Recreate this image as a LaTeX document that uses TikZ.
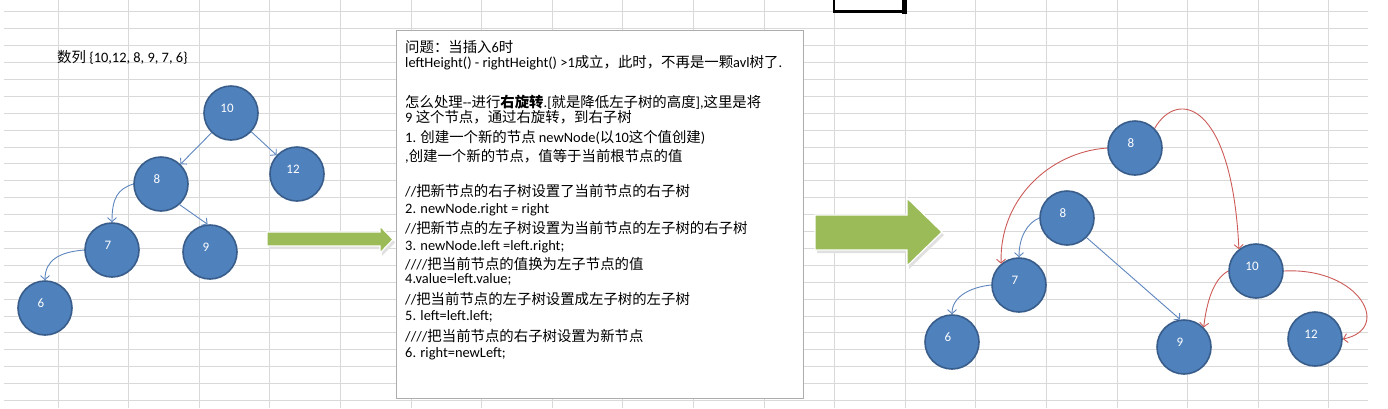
\documentclass[tikz,border=0pt]{standalone}
\usepackage{fontspec}
\setmainfont{Carlito}
\newfontfamily\zhfont{Noto Sans CJK SC}
\newcommand{\zh}[1]{{\zhfont #1}}
\usepackage{tikz}
\usetikzlibrary{arrows.meta}
\definecolor{AVLNode}{HTML}{4F81BD}
\definecolor{AVLRim}{HTML}{385D8A}
\definecolor{AVLEdge}{HTML}{5E86BF}
\definecolor{AVLRed}{HTML}{CC5B58}
\definecolor{AVLGreen}{HTML}{9BBB59}
\definecolor{AVLGrid}{HTML}{D9D9D9}
\definecolor{AVLBox}{HTML}{ADADAD}
\tikzset{
  avlnode/.style={circle,fill=AVLNode,draw=AVLRim,line width=1.6pt,minimum size=54pt,inner sep=0pt,
    label={[text=white,font=\fontsize{13}{13}\selectfont,xshift=-4pt,yshift=5pt]center:#1}},
  bluelink/.style={draw=AVLEdge,line width=0.9pt,-{Straight Barb[length=4pt,width=9pt]}},
  redlink/.style={draw=AVLRed,line width=0.9pt,-{Straight Barb[length=4pt,width=9pt]}},
  noteline/.style={anchor=base west,inner sep=0pt,font=\fontsize{14.4}{17}\selectfont},
  fatarrow/.style={fill=AVLGreen,draw=white,line width=1.2pt}
}
\begin{document}
\begin{tikzpicture}[x=1pt,y=-1pt]
\path[use as bounding box] (0,0) rectangle (1388,408);
\fill[white] (0,0) rectangle (1388,408);
% sheet grid
\foreach \gy in {0,...,23}
  \draw[AVLGrid,line width=0.8pt] (4,11.7+16.9*\gy) -- (1368,11.7+16.9*\gy);
\foreach \gx in {0,...,18}
  \draw[AVLGrid,line width=0.8pt] (58+70.6*\gx,0) -- (58+70.6*\gx,408);
% selected cell
\draw[black,line width=2.4pt] (834,0) -- (834,11.5) -- (903,11.5);
\fill[black] (901.5,0) rectangle (906.5,14);

% before
\node[anchor=base west,inner sep=0pt,font=\fontsize{14.4}{17}\selectfont] (seq) at (57,62) {\zh{数列} \{10,12, 8, 9, 7, 6\}};
\node[avlnode=10] (a10) at (231,113) {};
\node[avlnode=12] (a12) at (297,174) {};
\node[avlnode=8] (a8) at (161,184) {};
\node[avlnode=7] (a7) at (112,250) {};
\node[avlnode=9] (a9) at (210,252) {};
\node[avlnode=6] (a6) at (45,308) {};
\draw[bluelink] (a10) -- (a8);
\draw[bluelink] (a10) -- (a12);
\draw[bluelink] (a8.-48) -- (a9.95);
\draw[bluelink] (a8.west) .. controls +(-15,5) and +(0,-25) .. (a7.north);
\draw[bluelink] (a7.west) .. controls +(-25,2) and +(0,-20) .. (a6.north);

% arrows
\fill[black!12] (269,235) -- (382,235) -- (382,229) -- (395,242.5) -- (382,256) -- (382,249) -- (269,249) -- cycle;
\path[fatarrow] (267,232) -- (380,232) -- (380,226) -- (393,239.5) -- (380,253) -- (380,246) -- (267,246) -- cycle;
\fill[black!12] (817,218) -- (909,218) -- (909,201) -- (944,235) -- (909,269) -- (909,253) -- (817,253) -- cycle;
\path[fatarrow] (815,215) -- (907,215) -- (907,198) -- (942,232) -- (907,266) -- (907,250) -- (815,250) -- cycle;

% note
\draw[AVLBox,fill=white,line width=0.8pt] (396,30) rectangle (803,398);
\node[noteline] (q1) at (405,52.5) {\zh{问题：当插入}6\zh{时}};
\node[noteline] (q2) at (405,67) {leftHeight() - rightHeight() >1\zh{成立，此时，不再是一颗}avl\zh{树了}.};
\node[noteline] (q4) at (405,107.5) {\zh{怎么处理}-{}-\zh{进行}\textbf{\zh{右旋转}}.[\zh{就是降低左子树的高度}],\zh{这里是将}};
\node[noteline] (q5) at (405,122.5) {9 \zh{这个节点，通过右旋转，到右子树}};
\node[noteline] (q6) at (405,142.5) {1. \zh{创建一个新的节点} newNode(\zh{以}10\zh{这个值创建})};
\node[noteline] (q7) at (405,161) {,\zh{创建一个新的节点，值等于当前根节点的值}};
\node[noteline] (q9) at (405,196) {//\zh{把新节点的右子树设置了当前节点的右子树}};
\node[noteline] (q10) at (405,213) {2. newNode.right = right};
\node[noteline] (q11) at (405,233) {//\zh{把新节点的左子树设置为当前节点的左子树的右子树}};
\node[noteline] (q12) at (405,250) {3. newNode.left =left.right;};
\node[noteline] (q13) at (405,269.5) {////\zh{把当前节点的值换为左子节点的值}};
\node[noteline] (q14) at (405,283.5) {4.value=left.value;};
\node[noteline] (q15) at (405,304.5) {//\zh{把当前节点的左子树设置成左子树的左子树}};
\node[noteline] (q16) at (405,320.5) {5. left=left.left;};
\node[noteline] (q17) at (405,341) {////\zh{把当前节点的右子树设置为新节点}};
\node[noteline] (q18) at (405,357.5) {6. right=newLeft;};

% after
\node[avlnode=8] (b8t) at (1135,148) {};
\node[avlnode=8] (b8m) at (1067,218) {};
\node[avlnode=7] (b7) at (1019,285) {};
\node[avlnode=6] (b6) at (952,342) {};
\node[avlnode=9] (b9) at (1184,347) {};
\node[avlnode=10] (b10) at (1256,271) {};
\node[avlnode=12] (b12) at (1315,339) {};
\draw[redlink] (b8t.west) .. controls +(-58,4) and +(-2,-64) .. (b7.130);
\draw[redlink] (b8t.45) .. controls +(23,-40) and +(-7,-147) .. (b10.128);
\draw[redlink] (b10.west) .. controls +(-15,8) and +(3,-25) .. (b9.45);
\draw[redlink] (b10.east) .. controls +(76,-4) and +(50,-10) .. (b12.east);
\draw[bluelink] (b8m.west) .. controls +(-12,5) and +(0,-20) .. (b7.north);
\draw[bluelink] (b8m.-45) -- (b9.98);
\draw[bluelink] (b7.west) .. controls +(-20,2) and +(0,-18) .. (b6.north);
\end{tikzpicture}
\end{document}
